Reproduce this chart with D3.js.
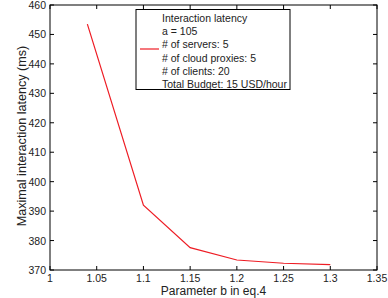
<!DOCTYPE html>
<html><head><meta charset="utf-8">
<script src="https://cdn.jsdelivr.net/npm/d3@7"></script>
<style>body{margin:0;background:#fff}svg{display:block;font-family:"Liberation Sans",Arial,sans-serif}</style>
</head><body>
<svg id="c" width="388" height="298"></svg>
<script>
const xValues = [1.04, 1.1, 1.15, 1.2, 1.25, 1.3];
const latency = [453.5, 392, 377.6, 373.4, 372.3, 371.8];
const xTicks = [1, 1.05, 1.1, 1.15, 1.2, 1.25, 1.3, 1.35];
const yTicks = [370, 380, 390, 400, 410, 420, 430, 440, 450, 460];
const legendLines = ["Interaction latency", "a = 105", "# of servers: 5", "# of cloud proxies: 5", "# of clients: 20", "Total Budget: 15 USD/hour"];

const svg = d3.select("#c");
const L = 50, R = 377, T = 5, B = 270;
const x = d3.scaleLinear().domain([1, 1.35]).range([L, R]);
const y = d3.scaleLinear().domain([370, 460]).range([B, T]);

svg.append("rect").attr("x", L).attr("y", T).attr("width", R - L).attr("height", B - T)
  .attr("fill", "none").attr("stroke", "#000").attr("stroke-width", 1);

const tl = 4;
const g = svg.append("g");
xTicks.forEach(t => {
  g.append("line").attr("x1", x(t)).attr("x2", x(t)).attr("y1", B).attr("y2", B - tl).attr("stroke", "#000");
  g.append("line").attr("x1", x(t)).attr("x2", x(t)).attr("y1", T).attr("y2", T + tl).attr("stroke", "#000");
  g.append("text").attr("x", x(t)).attr("y", B + 12).attr("text-anchor", "middle")
    .attr("font-size", 10.5).attr("fill", "#222").text(d3.format("")(t));
});
yTicks.forEach(t => {
  g.append("line").attr("x1", L).attr("x2", L + tl).attr("y1", y(t)).attr("y2", y(t)).attr("stroke", "#000");
  g.append("line").attr("x1", R).attr("x2", R - tl).attr("y1", y(t)).attr("y2", y(t)).attr("stroke", "#000");
  g.append("text").attr("x", L - 4).attr("y", y(t) + 4).attr("text-anchor", "end")
    .attr("font-size", 10.5).attr("fill", "#222").text(t);
});

const line = d3.line().x((d, i) => x(xValues[i])).y(d => y(d));
svg.append("path").datum(latency).attr("d", line).attr("fill", "none")
  .attr("stroke", "#ee1c24").attr("stroke-width", 1.2);

svg.append("text").attr("x", (L + R) / 2).attr("y", 294.5).attr("text-anchor", "middle")
  .attr("font-size", 12).attr("fill", "#222").text("Parameter b in eq.4");
svg.append("text").attr("transform", `translate(25.5,136) rotate(-90)`).attr("text-anchor", "middle")
  .attr("font-size", 12.6).attr("fill", "#222").text("Maximal interaction latency (ms)");

const lg = svg.append("g");
lg.append("rect").attr("x", 136).attr("y", 9.5).attr("width", 154).attr("height", 80)
  .attr("fill", "#fff").attr("stroke", "#000");
lg.append("line").attr("x1", 140).attr("x2", 159).attr("y1", 49).attr("y2", 49)
  .attr("stroke", "#ee1c24").attr("stroke-width", 1.2);
legendLines.forEach((s, i) => {
  lg.append("text").attr("x", 162).attr("y", 22 + i * 13.2).attr("font-size", 10.5)
    .attr("fill", "#222").text(s);
});
</script>
</body></html>
